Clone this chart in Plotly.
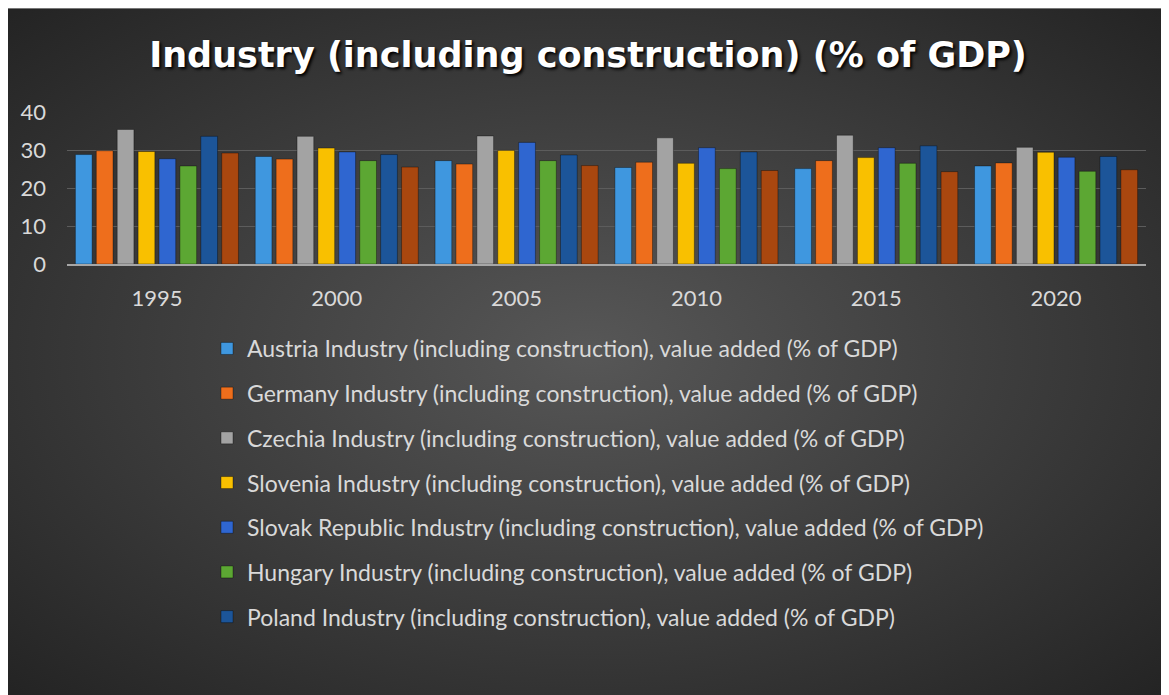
import base64
import plotly.graph_objects as go

years = ["1995", "2000", "2005", "2010", "2015", "2020"]
austria = [28.8, 28.3, 27.2, 25.4, 25.1, 25.8]
germany = [29.8, 27.6, 26.3, 26.8, 27.2, 26.6]
czechia = [35.4, 33.6, 33.7, 33.2, 33.9, 30.7]
slovenia = [29.6, 30.5, 29.9, 26.5, 28.0, 29.4]
slovak = [27.7, 29.5, 32.0, 30.6, 30.6, 28.1]
hungary = [25.8, 27.2, 27.2, 25.1, 26.5, 24.4]
poland = [33.6, 28.8, 28.7, 29.5, 31.1, 28.3]
other = [29.2, 25.5, 25.9, 24.6, 24.3, 24.8]

suffix = " Industry (including construction), value added (% of GDP)"
series = [
    ("Austria", austria, "#3f97df", True),
    ("Germany", germany, "#ee6e1c", True),
    ("Czechia", czechia, "#a3a3a3", True),
    ("Slovenia", slovenia, "#f9c000", True),
    ("Slovak Republic", slovak, "#2f66d0", True),
    ("Hungary", hungary, "#5ca733", True),
    ("Poland", poland, "#1c5599", True),
    ("Other", other, "#a9470f", False),
]

# page has an 8px body margin; figure coordinates = page coordinates - 8
W, H = 1161, 687
L, R, T, B = 59, 23, 104, 431
pw, ph = W - L - R, H - T - B

fig = go.Figure()
for i, (name, vals, col, show) in enumerate(series):
    fig.add_trace(go.Bar(
        x=years, y=vals, name=name + suffix,
        marker=dict(color=col, line=dict(color="rgba(0,0,0,0.35)", width=1)),
        showlegend=show, legendgroup="g%d" % i,
    ))

svg = f'''<svg xmlns="http://www.w3.org/2000/svg" width="{W}" height="{H}">
<defs><radialGradient id="g" cx="50%" cy="50%" r="70%">
<stop offset="0%" stop-color="#575757"/><stop offset="100%" stop-color="#242424"/>
</radialGradient></defs>
<rect width="100%" height="100%" fill="url(#g)"/>
<line x1="0" y1="0.5" x2="{W}" y2="0.5" stroke="#777" stroke-width="1"/>
</svg>'''
src = "data:image/svg+xml;base64," + base64.b64encode(svg.encode()).decode()

fig.add_layout_image(dict(
    source=src, xref="paper", yref="paper",
    x=-L / pw, y=(H - B) / ph,
    sizex=W / pw, sizey=H / ph,
    xanchor="left", yanchor="top", sizing="stretch", layer="below",
))

font = "Lato, 'Open Sans', sans-serif"
fig.update_layout(
    width=W, height=H,
    margin=dict(l=L, r=R, t=T, b=B, pad=0),
    paper_bgcolor="white", plot_bgcolor="rgba(0,0,0,0)",
    barmode="group", bargap=0.07, bargroupgap=0.2,
    title=dict(
        text="Industry (including construction) (% of GDP)",
        x=(588 - 8) / W, xref="container", xanchor="center",
        y=(H - 47) / H, yref="container", yanchor="middle",
        font=dict(family="'DejaVu Sans', sans-serif", size=35, color="white",
                  weight="bold", shadow="2px 2px 3px #000"),
    ),
    font=dict(family=font, color="#d9d9d9"),
    xaxis=dict(
        showgrid=False, showline=True, linecolor="#a6a6a6", linewidth=2,
        ticks="", ticklabelstandoff=14,
        tickfont=dict(size=22, color="#d9d9d9"),
    ),
    yaxis=dict(
        range=[0, 40], dtick=10, showgrid=True, gridcolor="#5c5c5c", gridwidth=1,
        zeroline=False, showline=False, ticks="", ticklabelstandoff=20,
        tickfont=dict(size=22, color="#d9d9d9"),
    ),
    legend=dict(
        x=(199 - L) / pw, xanchor="left", y=(H - B - 319) / ph, yanchor="top",
        orientation="v", tracegroupgap=11.8, bgcolor="rgba(0,0,0,0)",
        font=dict(family=font, size=23, color="#d9d9d9"),
    ),
)

fig.write_html("out.html")
